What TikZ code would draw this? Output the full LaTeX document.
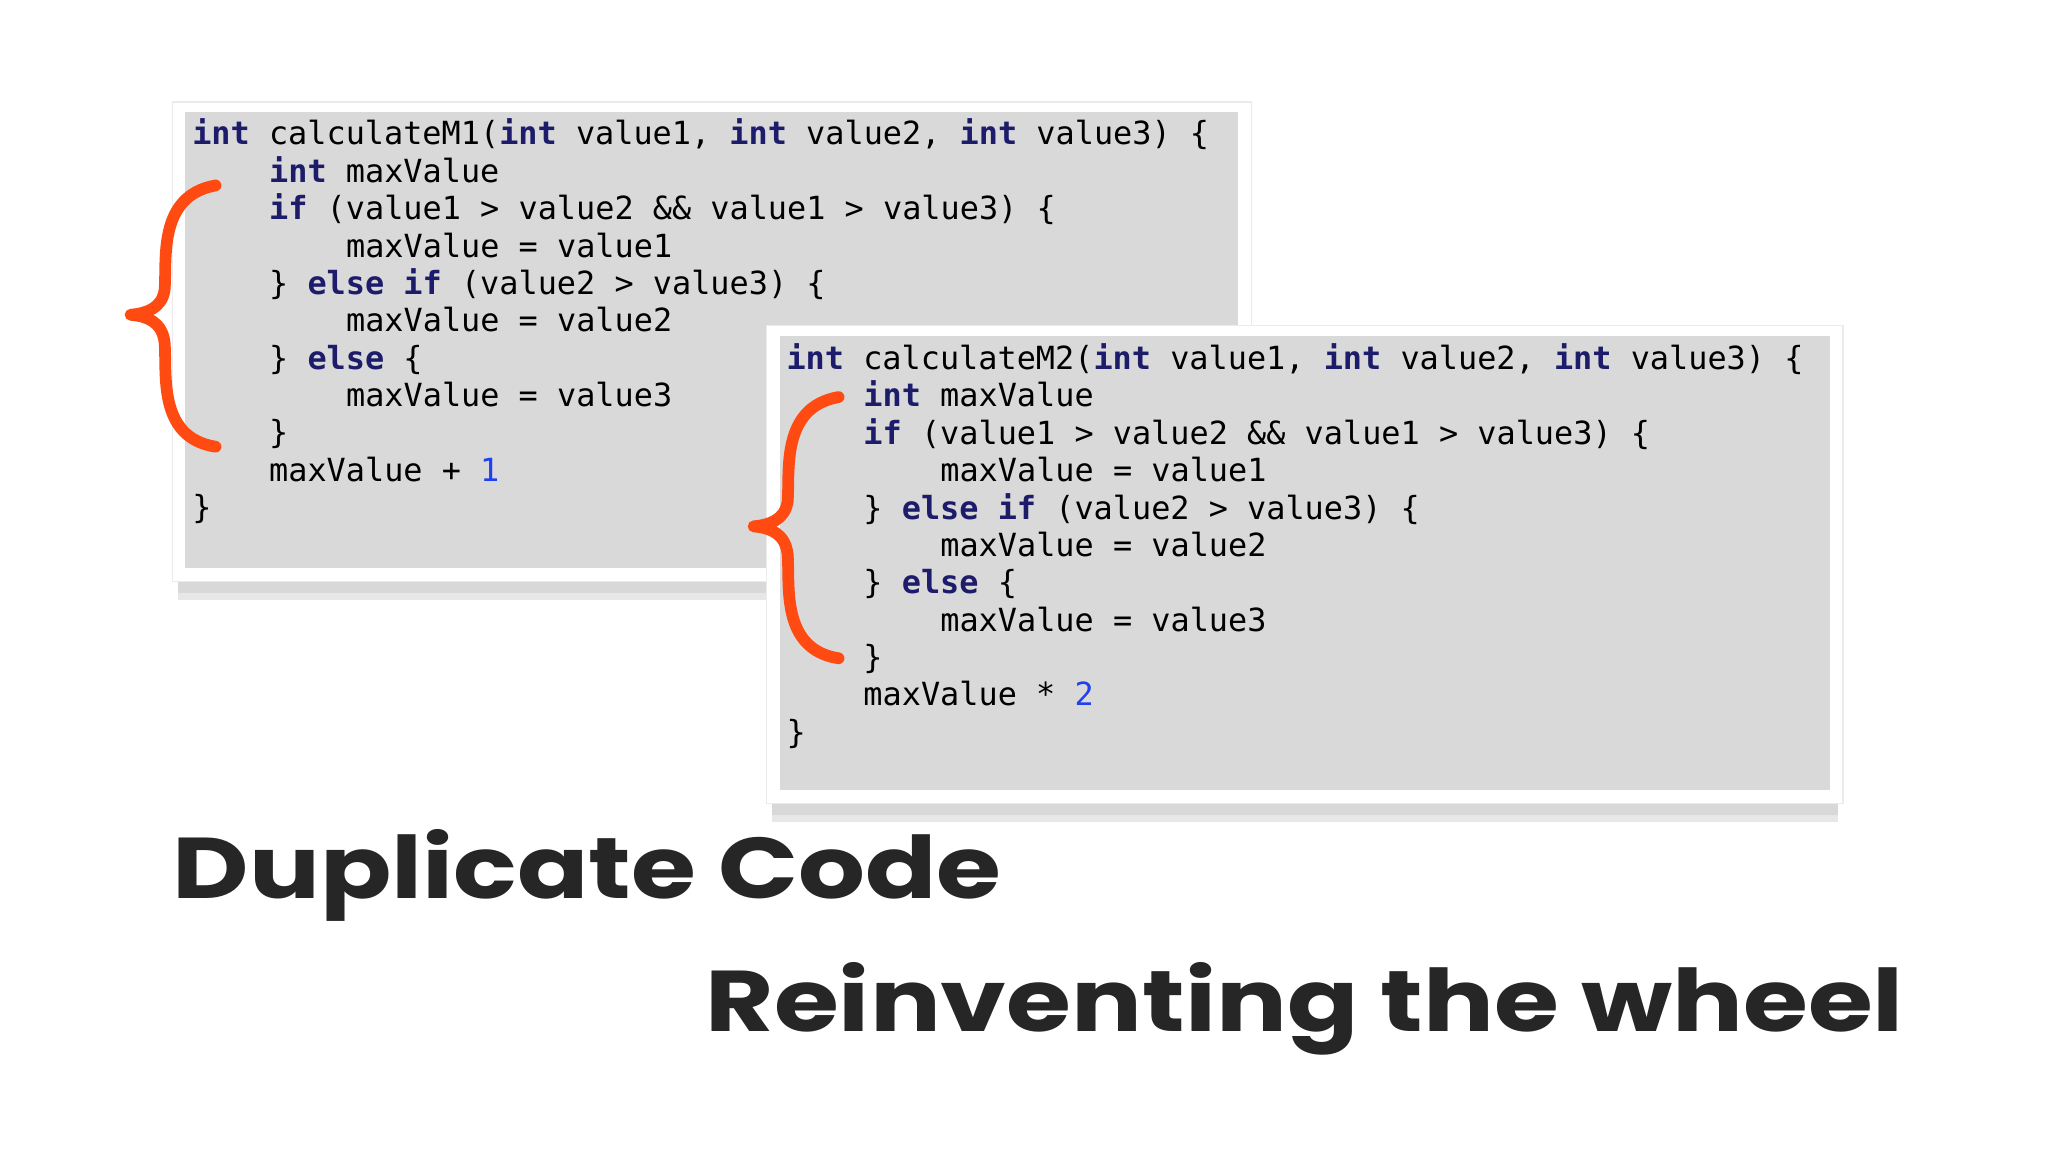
\documentclass[tikz,border=0pt]{standalone}
\usepackage{fontspec}
\setmonofont{DejaVu Sans Mono}
\setmainfont{Poppins}
\definecolor{kw}{HTML}{1C1C6A}
\definecolor{num}{HTML}{1E40F0}
\definecolor{codebg}{HTML}{D9D9D9}
\definecolor{brace}{HTML}{FF4A12}
\newcommand\kw[1]{\textbf{\color{kw}#1}}
\newcommand\nm[1]{{\color{num}#1}}
\tikzset{
  codeline/.style={anchor=base west,inner sep=0pt,font=\fontsize{24.4}{28}\ttfamily,text=black},
  outerbox/.style={fill=white,draw=black!8,line width=1pt},
  innerbox/.style={fill=codebg},
  shadow/.style={fill=black!30,draw=none},
  bracepath/.style={draw=brace,line width=9pt,line cap=round,line join=round},
  title/.style={anchor=base west,inner sep=0pt,xscale=1.22,font=\fontsize{66}{70}\selectfont\bfseries,text=black!85}
}
\newcommand\cw{14.72}
\begin{document}
\begin{tikzpicture}[x=1pt,y=-1pt]
\useasboundingbox[fill=white] (0,0) rectangle (1568,882);
% box 1
\fill[shadow,opacity=0.5] (136,442) rectangle (954,454);
\fill[shadow,opacity=0.3] (136,454) rectangle (954,459);
\draw[outerbox] (132,78) rectangle (958,445);
\fill[innerbox] (142,86) rectangle (948,435);
\foreach \i/\ind/\t in {
 0/0/{\kw{int} calculateM1(\kw{int} value1, \kw{int} value2, \kw{int} value3) \{},
 1/4/{\kw{int} maxValue},
 2/4/{\kw{if} (value1 > value2 \&\& value1 > value3) \{},
 3/8/{maxValue = value1},
 4/4/{\} \kw{else} \kw{if} (value2 > value3) \{},
 5/8/{maxValue = value2},
 6/4/{\} \kw{else} \{},
 7/8/{maxValue = value3},
 8/4/{\}},
 9/4/{maxValue + \nm{1}},
 10/0/{\}}}
 \node[codeline] (a\i) at (147+\ind*\cw,111+28.6*\i) {\t};
\draw[bracepath] (165,142) .. controls (120,150) and (128,200) .. (126,222) .. controls (124,236) and (112,240) .. (100,241) .. controls (112,242) and (124,246) .. (126,262) .. controls (128,285) and (120,335) .. (165,342);
% box 2
\fill[shadow,opacity=0.5] (591,612) rectangle (1407,624);
\fill[shadow,opacity=0.3] (591,624) rectangle (1407,629);
\draw[outerbox] (587,249) rectangle (1411,615);
\fill[innerbox] (597,257) rectangle (1401,605);
\foreach \i/\ind/\t in {
 0/0/{\kw{int} calculateM2(\kw{int} value1, \kw{int} value2, \kw{int} value3) \{},
 1/4/{\kw{int} maxValue},
 2/4/{\kw{if} (value1 > value2 \&\& value1 > value3) \{},
 3/8/{maxValue = value1},
 4/4/{\} \kw{else} \kw{if} (value2 > value3) \{},
 5/8/{maxValue = value2},
 6/4/{\} \kw{else} \{},
 7/8/{maxValue = value3},
 8/4/{\}},
 9/4/{maxValue * \nm{2}},
 10/0/{\}}}
 \node[codeline] (b\i) at (602+\ind*\cw,283+28.6*\i) {\t};
\begin{scope}[shift={(477,162)}]
\draw[bracepath] (165,142) .. controls (120,150) and (128,200) .. (126,222) .. controls (124,236) and (112,240) .. (100,241) .. controls (112,242) and (124,246) .. (126,262) .. controls (128,285) and (120,335) .. (165,342);
\end{scope}
\node[title] (t1) at (132,688) {Duplicate Code};
\node[title] (t2) at (540,790) {Reinventing the wheel};
\end{tikzpicture}
\end{document}
